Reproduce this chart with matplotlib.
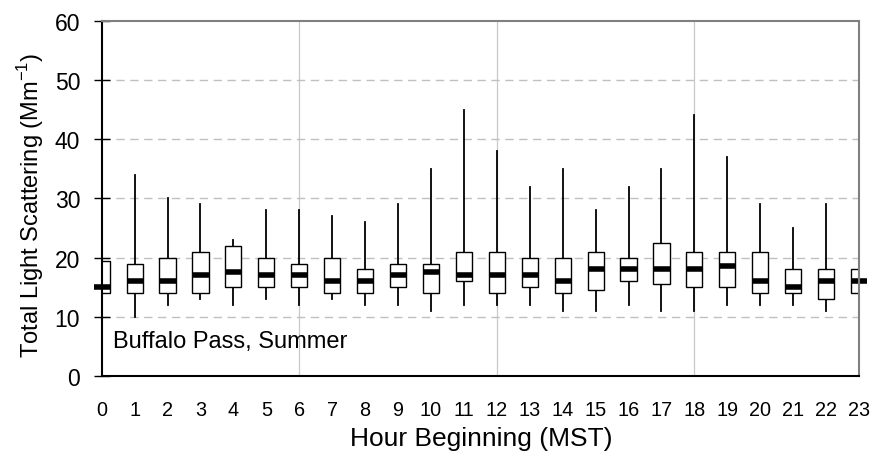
import matplotlib
matplotlib.use("Agg")
import matplotlib.pyplot as plt

hours = list(range(24))
whis_lo = [13, 10, 12, 13, 12, 13, 12, 13, 12, 12, 11, 12, 12, 12, 11, 11, 12, 11, 11, 12, 12, 12, 11, 12]
q1      = [14, 14, 14, 14, 15, 15, 15, 14, 14, 15, 14, 16, 14, 15, 14, 14.6, 16, 15.5, 15, 15, 14, 14, 13, 14]
median  = [15, 16, 16, 17, 17.5, 17, 17, 16, 16, 17, 17.5, 17, 17, 17, 16, 18, 18, 18, 18, 18.5, 16, 15, 16, 16]
q3      = [19.5, 19, 20, 21, 22, 20, 19, 20, 18, 19, 19, 21, 21, 20, 20, 21, 20, 22.5, 21, 21, 21, 18, 18, 18]
whis_hi = [25, 34, 30, 29, 23, 28, 28, 27, 26, 29, 35, 45, 38, 32, 35, 28, 32, 35, 44, 37, 29, 25, 29, 25]
yticks = [0, 10, 20, 30, 40, 50, 60]
title_text = "Buffalo Pass, Summer"

plt.rcParams['font.family'] = ['Liberation Sans', 'DejaVu Sans']

fig = plt.figure(figsize=(8.73, 4.6), dpi=100)
ax = fig.add_axes([0.1165, 0.1804, 0.9840 - 0.1165, 0.9528 - 0.1804])

stats = []
for h in hours:
    stats.append(dict(whislo=whis_lo[h], q1=q1[h], med=median[h], q3=q3[h],
                      whishi=whis_hi[h], fliers=[]))

res = ax.bxp(stats, positions=hours, widths=0.49, showfliers=False, showcaps=False,
             patch_artist=True,
             boxprops=dict(facecolor='white', edgecolor='black', linewidth=1.0),
             whiskerprops=dict(color='black', linewidth=1.3),
             medianprops=dict(color='black', linewidth=4.0, solid_capstyle='butt'),
             manage_ticks=False)
for art in res['boxes']:
    art.set_zorder(3)
for art in res['whiskers']:
    art.set_zorder(2.5)
for art in res['medians']:
    art.set_zorder(4)
    art.set_clip_on(False)

ax.set_xlim(0, 23)
ax.set_ylim(0, 60)

# grid
for v in [6, 12, 18]:
    ax.axvline(v, color='#c8c8c8', linewidth=0.9, zorder=1)
for v in yticks[1:-1]:
    ax.axhline(v, color='#c0c0c0', linewidth=1.0, linestyle=(0, (6, 4)), zorder=1)

ax.set_yticks(yticks)
ax.set_yticklabels([str(v) for v in yticks])
ax.set_xticks(hours)
ax.set_xticklabels([str(h) for h in hours])
ax.set_xticks([0, 6, 12, 18], minor=True)

ax.tick_params(axis='y', direction='inout', length=12, width=1.0, labelsize=16.5, pad=9.5, color='black')
ax.tick_params(axis='x', which='major', length=0, labelsize=14.3, pad=17)
ax.tick_params(axis='x', which='minor', direction='inout', length=12, width=0.9, color='black')

for side in ['left', 'bottom']:
    ax.spines[side].set_color('black')
    ax.spines[side].set_linewidth(1.5)
for side in ['top', 'right']:
    ax.spines[side].set_color('#808080')
    ax.spines[side].set_linewidth(1.5)
for sp in ax.spines.values():
    sp.set_zorder(5)

ax.set_ylabel("Total Light Scattering (Mm$^{\\mathregular{-1}}$)", fontsize=17, va='center')
ax.yaxis.set_label_coords(-0.0935, 0.484)
ax.set_xlabel("Hour Beginning (MST)", fontsize=19, va='center')
ax.xaxis.set_label_coords(0.501, -0.1745)

ax.text(0.334, 4.84, title_text, fontsize=17, ha='left', va='baseline', zorder=6)

fig.savefig("out.png", dpi=100)
